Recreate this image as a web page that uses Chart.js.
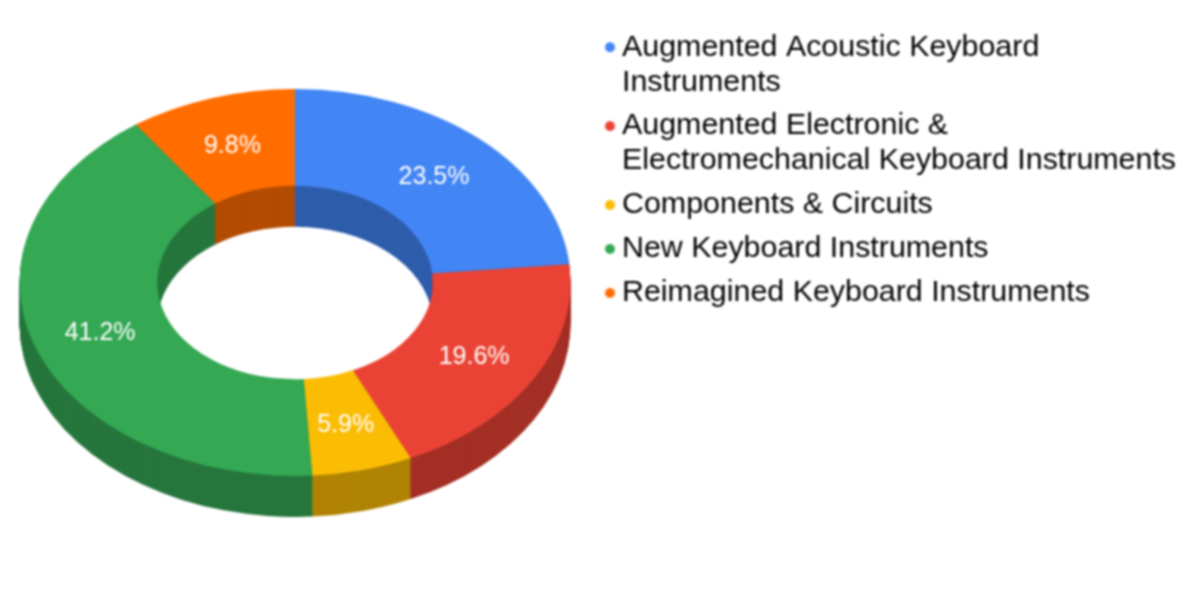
<!DOCTYPE html>
<html>
<head>
<meta charset="utf-8">
<script src="https://cdn.jsdelivr.net/npm/chart.js@4"></script>
<style>
  html, body { margin: 0; padding: 0; background: #fff; }
  #wrap { width: 1200px; height: 606px; }
  canvas { filter: blur(0.8px); }
</style>
</head>
<body>
<div id="wrap"><canvas id="chart" width="1200" height="606"></canvas></div>
<script>
const categories = [
  ["Augmented Acoustic Keyboard", "Instruments"],
  ["Augmented Electronic &", "Electromechanical Keyboard Instruments"],
  ["Components & Circuits"],
  ["New Keyboard Instruments"],
  ["Reimagined Keyboard Instruments"]
];
const shares = [23.5, 19.6, 5.9, 41.2, 9.8];
const topColors = ["#4285f4", "#ea4335", "#fbbc04", "#34a853", "#ff6d01"];
const sideColors = ["#2e5dab", "#a42f25", "#b08403", "#26763d", "#b34c01"];

const TILT = 0.702;   // ellipse height / width of the ring
const DEPTH = 41;     // thickness of the ring in px

// squash the ring around its centre, then push it down by "drop" px
function applyTilt(ctx, arc, drop) {
  ctx.translate(0, arc.y + drop);
  ctx.scale(1, TILT);
  ctx.translate(0, -arc.y);
}

function drawArcWith(ctx, arc, color) {
  const saved = arc.options;
  arc.options = Object.assign(Object.create(saved), { backgroundColor: color, borderColor: color, borderWidth: 0 });
  arc.draw(ctx);
  arc.options = saved;
}

// legend dot, placed right of the image centre so it ends up close to the text
function legendDot(color) {
  const c = document.createElement("canvas");
  c.width = 20;
  c.height = 12;
  const g = c.getContext("2d");
  g.fillStyle = color;
  g.beginPath();
  g.arc(13.2, 6, 5, 0, Math.PI * 2);
  g.fill();
  return c;
}

const ring3d = {
  id: "ring3d",
  afterLayout(chart) {
    // legend sits closer to the ring and lower than the box layout puts it
    const legend = chart.legend;
    legend.left = 597.8;
    legend.right = 1200;
    legend.top = 23;
  },
  beforeDatasetsDraw(chart) {
    const ctx = chart.ctx;
    const arcs = chart.getDatasetMeta(0).data;

    // side walls, deepest layer first
    for (let drop = DEPTH; drop > 0; drop--) {
      arcs.forEach((arc, i) => {
        ctx.save();
        applyTilt(ctx, arc, drop);
        drawArcWith(ctx, arc, sideColors[i]);
        ctx.restore();
      });
    }

    // top face
    arcs.forEach((arc, i) => {
      ctx.save();
      applyTilt(ctx, arc, 0);
      drawArcWith(ctx, arc, topColors[i]);
      ctx.restore();
    });

    // percent labels
    ctx.save();
    ctx.fillStyle = "#ffffff";
    ctx.font = "25px 'Liberation Sans', Arial, sans-serif";
    ctx.textAlign = "center";
    ctx.textBaseline = "middle";
    arcs.forEach((arc, i) => {
      const p = arc.getCenterPoint();
      ctx.fillText(shares[i].toFixed(1) + "%", p.x, arc.y + (p.y - arc.y) * TILT + 2);
    });
    ctx.restore();
    return false;
  }
};

new Chart(document.getElementById("chart"), {
  type: "doughnut",
  plugins: [ring3d],
  data: {
    labels: categories,
    datasets: [{
      data: shares,
      backgroundColor: topColors,
      borderWidth: 0
    }]
  },
  options: {
    responsive: false,
    animation: false,
    cutout: "50%",
    layout: { padding: { left: 17, top: 7, right: 71, bottom: 48 } },
    plugins: {
      tooltip: { enabled: false },
      legend: {
        position: "right",
        align: "start",
        labels: {
          color: "#444444",
          font: { family: "'Liberation Sans', Arial, sans-serif", size: 30.4, lineHeight: 1.15 },
          usePointStyle: true,
          boxWidth: 0.01,
          boxHeight: 7,
          padding: 9,
          generateLabels() {
            return categories.map((text, i) => ({
              text: text,
              fillStyle: topColors[i],
              strokeStyle: topColors[i],
              lineWidth: 0,
              pointStyle: legendDot(topColors[i]),
              index: i
            }));
          }
        }
      }
    }
  }
});
</script>
</body>
</html>
